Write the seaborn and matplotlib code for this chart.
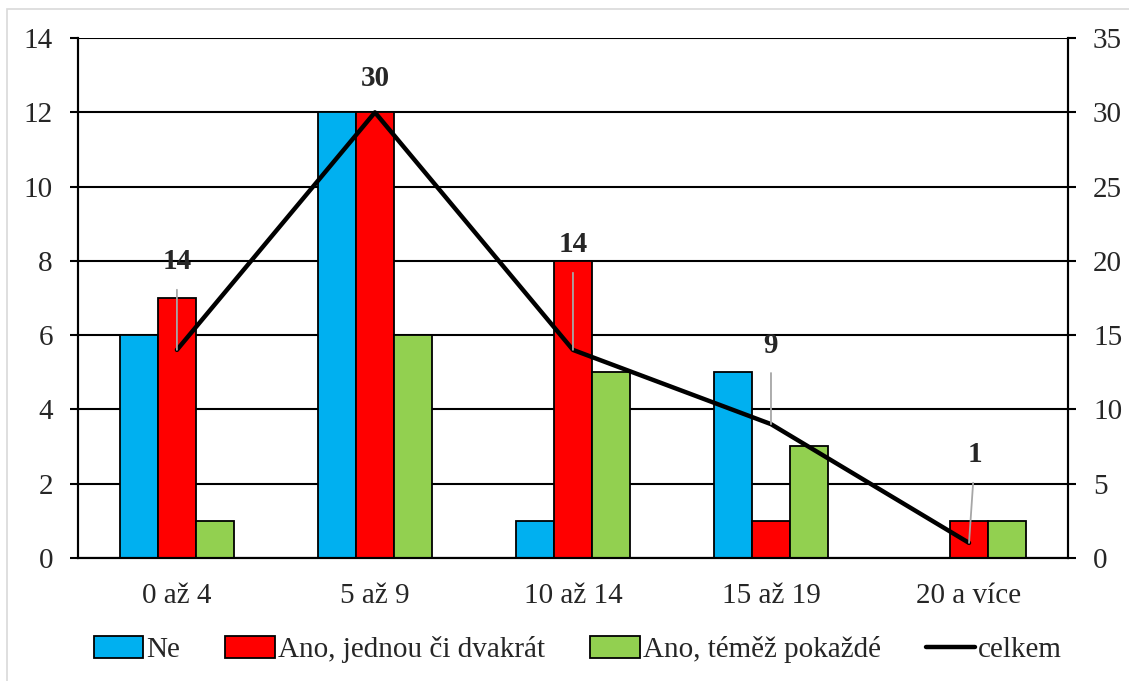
import numpy as np
import pandas as pd
import matplotlib
matplotlib.use("Agg")
import matplotlib.pyplot as plt
import seaborn as sns
from matplotlib.patches import Rectangle

# data
categories = ["0 až 4", "5 až 9", "10 až 14", "15 až 19", "20 a více"]
ne = [6, 12, 1, 5, 0]
ano_jednou = [7, 12, 8, 1, 1]
ano_pokazde = [1, 6, 5, 3, 1]
celkem = [14, 30, 14, 9, 1]
series_names = ["Ne", "Ano, jednou či dvakrát", "Ano, téměž pokaždé"]
series_colors = ["#00B0F0", "#FF0000", "#92D050"]

# label offsets for the "celkem" values (pixels)
label_offsets = [(0, 88), (0, 34), (0, 105), (0, 79), (6, 88)]

sns.set_style("white")
plt.rcParams["font.family"] = ["Liberation Serif", "DejaVu Serif"]

df = pd.DataFrame({
    "kategorie": categories * 3,
    "pocet": ne + ano_jednou + ano_pokazde,
    "odpoved": [s for s in series_names for _ in categories],
})

fig = plt.figure(figsize=(11.29, 6.81), dpi=100)
ax = fig.add_axes([0.069, 0.181, 0.877, 0.763])

sns.barplot(data=df, x="kategorie", y="pocet", hue="odpoved", order=categories,
            hue_order=series_names, palette=series_colors, width=0.576, gap=0,
            edgecolor="black", linewidth=1.3, saturation=1, ax=ax, legend=False)

ax.set_ylim(0, 14)
ax.set_yticks(np.arange(0, 15, 2))
ax.set_xlim(-0.5, len(categories) - 0.5)
ax.set_xlabel("")
ax.set_ylabel("")
ax.set_axisbelow(True)
ax.yaxis.grid(True, color="black", linewidth=1.5)
ax.tick_params(axis="y", direction="out", length=6, width=1.5, color="black",
               labelsize=21, pad=12, left=True)
ax.tick_params(axis="x", length=0, labelsize=21, pad=18)
for sp in ax.spines.values():
    sp.set_color("black")
    sp.set_linewidth(1.5)
ax.spines["top"].set_visible(False)

ax2 = ax.twinx()
x_pos = np.arange(len(categories))
sns.lineplot(x=x_pos, y=celkem, color="black", linewidth=3.2, ax=ax2, legend=False)
ax2.set_ylim(0, 35)
ax2.set_yticks(np.arange(0, 36, 5))
ax2.tick_params(axis="y", direction="out", length=6, width=1.5, color="black",
                labelsize=21, pad=12, right=True)
for sp in ax2.spines.values():
    sp.set_color("black")
    sp.set_linewidth(1.5)
ax2.spines["top"].set_visible(False)
ax2.set_ylabel("")

for i, v in enumerate(celkem):
    off = label_offsets[i]
    leader = None
    if off[1] > 50:
        leader = dict(arrowstyle="-", color="#A6A6A6", lw=1.3, shrinkA=8, shrinkB=0)
    ax2.annotate(str(v), xy=(x_pos[i], v), xytext=off,
                 textcoords="offset pixels", ha="center", va="center",
                 fontsize=21, fontweight="bold", arrowprops=leader)

handles = [Rectangle((0, 0), 1, 1, facecolor=c, edgecolor="black", linewidth=1.3)
           for c in series_colors]
handles.append(plt.Line2D([0], [0], color="black", linewidth=3.2))
fig.legend(handles, series_names + ["celkem"], loc="center", ncol=4,
           bbox_to_anchor=(0.512, 0.046), frameon=False, fontsize=21,
           handlelength=1.7, handleheight=0.8, handletextpad=0.1,
           columnspacing=1.55)

# light frame around the chart
fig.patches.append(Rectangle((7 / 1129, -0.1), 1.2, 1.1 - 9 / 681,
                             transform=fig.transFigure, fill=False,
                             edgecolor="#D9D9D9", linewidth=1.2))

fig.savefig("out.png", dpi=100)
